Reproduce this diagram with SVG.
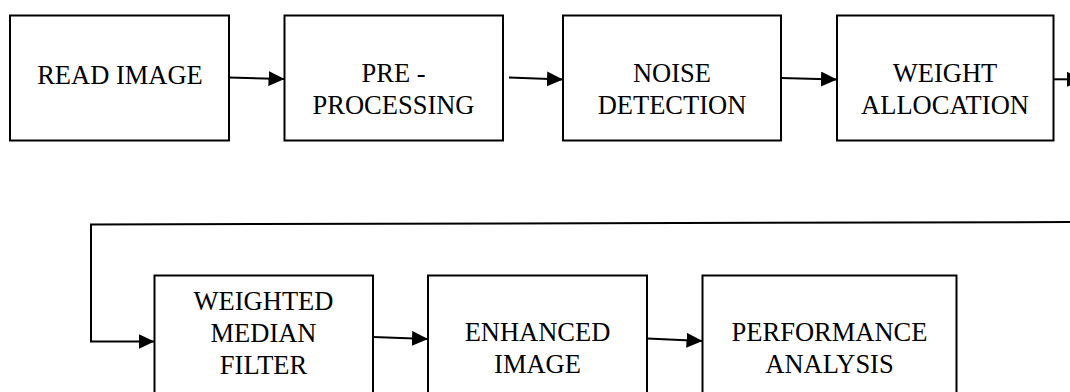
<svg xmlns="http://www.w3.org/2000/svg" width="1070" height="392" viewBox="0 0 1070 392">
  <style>
    .box { fill: #ffffff; stroke: #000000; stroke-width: 2; }
    .lbl { font-family: "Liberation Serif", "Times New Roman", serif; font-size: 26.5px; fill: #000000; text-anchor: middle; }
    .conn { fill: none; stroke: #000000; stroke-width: 2; }
  </style>
  <defs>
    <marker id="arrow" markerUnits="userSpaceOnUse" markerWidth="16" markerHeight="15" refX="16" refY="7.5" orient="auto">
      <path d="M0,0 L16,7.5 L0,15 Z" fill="#000000"/>
    </marker>
  </defs>
  <rect width="1070" height="392" fill="#ffffff"/>

  <g id="node-read-image">
    <rect class="box" x="10" y="15.5" width="219" height="125"/>
    <text class="lbl" x="120" y="84">READ IMAGE</text>
  </g>
  <g id="node-pre-processing">
    <rect class="box" x="284.5" y="15.5" width="218.5" height="125"/>
    <text class="lbl" x="393.5" y="82">PRE -</text>
    <text class="lbl" x="393.5" y="114">PROCESSING</text>
  </g>
  <g id="node-noise-detection">
    <rect class="box" x="563" y="15.5" width="218" height="125"/>
    <text class="lbl" x="672" y="82">NOISE</text>
    <text class="lbl" x="672" y="114">DETECTION</text>
  </g>
  <g id="node-weight-allocation">
    <rect class="box" x="837" y="15.5" width="216.5" height="125"/>
    <text class="lbl" x="945" y="82">WEIGHT</text>
    <text class="lbl" x="945" y="114">ALLOCATION</text>
  </g>
  <g id="node-weighted-median-filter">
    <rect class="box" x="154.5" y="275.5" width="218.5" height="130"/>
    <text class="lbl" x="263.5" y="310">WEIGHTED</text>
    <text class="lbl" x="263.5" y="342">MEDIAN</text>
    <text class="lbl" x="263.5" y="374">FILTER</text>
  </g>
  <g id="node-enhanced-image">
    <rect class="box" x="428" y="275.5" width="219" height="130"/>
    <text class="lbl" x="537.5" y="341">ENHANCED</text>
    <text class="lbl" x="537.5" y="373">IMAGE</text>
  </g>
  <g id="node-performance-analysis">
    <rect class="box" x="702.5" y="275.5" width="254" height="130"/>
    <text class="lbl" x="829.5" y="341">PERFORMANCE</text>
    <text class="lbl" x="829.5" y="373">ANALYSIS</text>
  </g>

  <g id="connectors">
    <line class="conn" x1="229" y1="77.5" x2="284.5" y2="79" marker-end="url(#arrow)"/>
    <line class="conn" x1="509" y1="77.5" x2="563" y2="79.5" marker-end="url(#arrow)"/>
    <line class="conn" x1="781" y1="78" x2="837" y2="79.5" marker-end="url(#arrow)"/>
    <line class="conn" x1="1053.5" y1="79.3" x2="1083" y2="79.3" marker-end="url(#arrow)"/>
    <polyline class="conn" points="1072,222 91,224.5 91,341.5 154.5,341.5" marker-end="url(#arrow)"/>
    <line class="conn" x1="373" y1="337" x2="428" y2="339" marker-end="url(#arrow)"/>
    <line class="conn" x1="647" y1="338.5" x2="702.5" y2="341" marker-end="url(#arrow)"/>
  </g>
</svg>
